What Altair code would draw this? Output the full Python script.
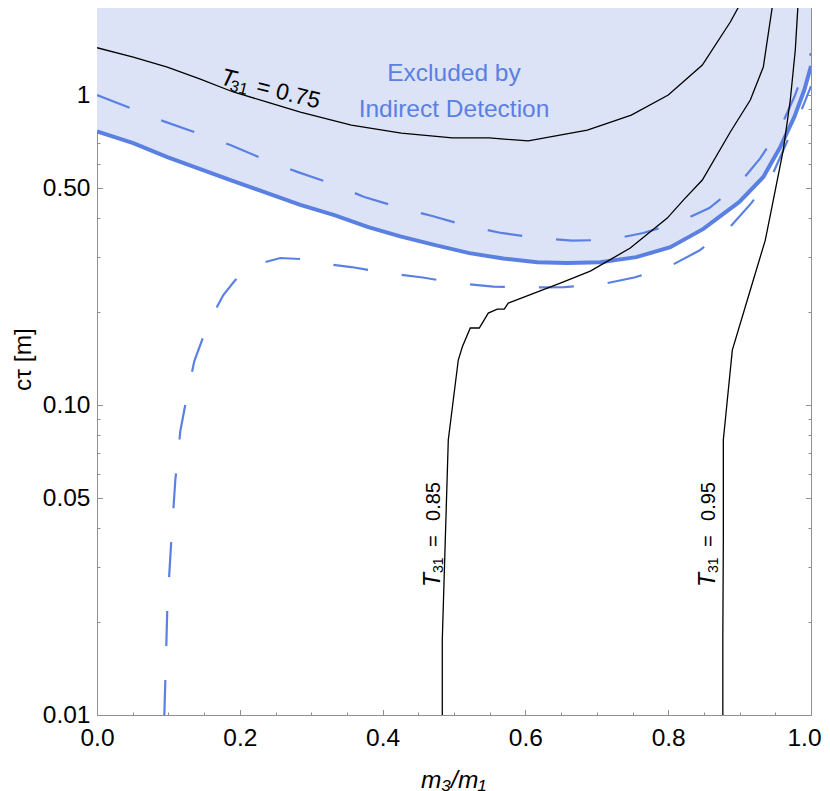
import altair as alt
import pandas as pd

# ---------------- data (x = m3/m1, y = c*tau in metres) ----------------
# thick solid blue boundary of the excluded region
solid_x = [0.0, 0.0508, 0.0985, 0.1447, 0.1909, 0.2385, 0.2848, 0.3324, 0.3800, 0.4248,
           0.4738, 0.5214, 0.5690, 0.6166, 0.6587, 0.7049, 0.7553, 0.8030, 0.8492, 0.8730,
           0.8996, 0.9332, 0.9570, 0.9766, 0.9906, 1.0]
solid_y = [0.763, 0.700, 0.631, 0.577, 0.528, 0.483, 0.442, 0.410, 0.375, 0.350,
           0.328, 0.309, 0.297, 0.289, 0.287, 0.289, 0.300, 0.323, 0.370, 0.407,
           0.452, 0.544, 0.680, 0.849, 1.038, 1.240]

# upper dashed blue curve
upper_x = [0.0, 0.0466, 0.0929, 0.1405, 0.1867, 0.2329, 0.2805, 0.3268, 0.3744, 0.4218,
           0.4696, 0.5186, 0.5662, 0.6166, 0.6657, 0.7175, 0.7651, 0.8127, 0.8576, 0.8982,
           0.9290, 0.9570, 0.9766, 0.9948, 1.0]
upper_y = [1.000, 0.908, 0.824, 0.754, 0.690, 0.622, 0.565, 0.520, 0.469, 0.435,
           0.407, 0.378, 0.359, 0.346, 0.339, 0.341, 0.359, 0.387, 0.432, 0.513,
           0.626, 0.783, 0.985, 1.278, 1.366]

# lower dashed blue curve
lower_x = [0.0943, 0.0971, 0.0985, 0.1041, 0.1097, 0.1167, 0.1265, 0.1363, 0.1545, 0.1657,
           0.1769, 0.1937, 0.2119, 0.2357, 0.2567, 0.2848, 0.3086, 0.3562, 0.4052, 0.4562,
           0.5046, 0.5550, 0.6041, 0.6545, 0.7049, 0.7525, 0.8001, 0.8436, 0.8842, 0.9164,
           0.9458, 0.9668, 0.9878, 1.0]
lower_y = [0.0100, 0.0168, 0.0223, 0.0367, 0.0573, 0.0824, 0.1085, 0.1386, 0.1799, 0.2025,
           0.2263, 0.2530, 0.2747, 0.2892, 0.2980, 0.2958, 0.2870, 0.2787, 0.2666, 0.2578,
           0.2474, 0.2411, 0.2393, 0.2402, 0.2447, 0.2578, 0.2787, 0.3150, 0.3696, 0.4480,
           0.5520, 0.7110, 0.9080, 1.0690]

# black contours T31 = 0.75, 0.85, 0.95
t75_x = [0.0, 0.0508, 0.0985, 0.1447, 0.1909, 0.2385, 0.2848, 0.3562, 0.4262, 0.4976,
         0.5494, 0.6040, 0.6867, 0.7483, 0.8001, 0.8478, 0.8870, 0.9038]
t75_y = [1.421, 1.326, 1.231, 1.126, 1.023, 0.949, 0.881, 0.800, 0.754, 0.727,
         0.727, 0.711, 0.771, 0.862, 1.000, 1.250, 1.720, 2.025]

t85_x = [0.4836, 0.4836, 0.4878, 0.4920, 0.4990, 0.5060, 0.5116, 0.5228, 0.5354, 0.5480,
         0.5606, 0.5704, 0.5760, 0.6489, 0.6909, 0.7469, 0.7987, 0.8212, 0.8478, 0.8870,
         0.9150, 0.9332, 0.9472]
t85_y = [0.0100, 0.0175, 0.0367, 0.0771, 0.1038, 0.1397, 0.1538, 0.1772, 0.1772, 0.1980,
         0.2040, 0.2040, 0.2133, 0.2474, 0.2705, 0.3209, 0.4010, 0.4580, 0.5320, 0.7600,
         0.9636, 1.2310, 2.0250]

t95_x = [0.8765, 0.8765, 0.8772, 0.8772, 0.8828, 0.8898, 0.9150, 0.9360, 0.9472, 0.9612,
         0.9710, 0.9780, 0.9822]
t95_y = [0.0100, 0.0175, 0.0367, 0.0771, 0.1038, 0.1504, 0.2350, 0.3405, 0.4580, 0.6650,
         0.9636, 1.3970, 2.0250]

# ticks / labels
x_label_values = [0.0, 0.2, 0.4, 0.6, 0.8, 1.0]
x_tick_values = [0.0, 0.05, 0.1, 0.15, 0.2, 0.25, 0.3, 0.35, 0.4, 0.45, 0.5,
                 0.55, 0.6, 0.65, 0.7, 0.75, 0.8, 0.85, 0.9, 0.95, 1.0]
y_label_values = [0.01, 0.05, 0.1, 0.5, 1.0]
y_tick_values = [0.01, 0.02, 0.03, 0.04, 0.05, 0.06, 0.07, 0.08, 0.09,
                 0.1, 0.2, 0.3, 0.4, 0.5, 0.6, 0.7, 0.8, 0.9, 1.0]

# contour labels: anchor (x, y) and number text
label_x = [0.1713, 0.4808, 0.8660]
label_y = [1.085, 0.02588, 0.02588]
label_num = ["0.75", "0.85", "0.95"]

region_text = ["Excluded by", "Indirect Detection"]
region_x = [0.5, 0.5]
region_y = [1.106, 0.851]

# ---------------- styling ----------------
FONT = "Liberation Sans"
BLUE = "#5A80E2"
FILL = "#DCE3F7"
GREY = "#909090"
W, H = 714, 707

xs = alt.Scale(domain=[0, 1], nice=False, zero=False)
ys = alt.Scale(type="log", domain=[0.01, 1.909], nice=False)


def df(xv, yv):
    return pd.DataFrame({"x": xv, "y": yv, "i": list(range(len(xv)))})


x_major_test = "abs(datum.value * 5 - round(datum.value * 5)) < 0.001"
y_major_test = "indexof([0.01, 0.05, 0.1, 0.5, 1], datum.value) >= 0"


def tick_axis(orient, offset, values, test):
    return alt.Axis(orient=orient, offset=offset, values=values, labels=False,
                    domain=False, grid=False, ticks=True, tickColor=GREY, tickWidth=1,
                    tickSize={"condition": {"test": test, "value": 5.5}, "value": 3},
                    title=None)


x_label_axis = alt.Axis(orient="bottom", values=x_label_values, format=".1f",
                        ticks=False, tickSize=0, domain=False, grid=False,
                        labelFont=FONT, labelFontSize=24.5, labelColor="black",
                        labelPadding=11, labelFlush=False, labelOverlap=False,
                        labelOffset={"condition": {"test": "datum.value == 1", "value": -7},
                                     "value": 0},
                        title="m\u2083/m\u2081", titleFont=FONT, titleFontSize=24.5,
                        titleFontStyle="italic", titleFontWeight="normal",
                        titleColor="black", titleX=356, titleY=72,
                        titleAlign="center", titleBaseline="alphabetic")

y_label_axis = alt.Axis(orient="left", values=y_label_values,
                        labelExpr="datum.value == 1 ? '1' : format(datum.value, '.2f')",
                        ticks=False, tickSize=0, domain=False, grid=False,
                        labelFont=FONT, labelFontSize=24.5, labelColor="black",
                        labelPadding=7, labelFlush=False, labelOverlap=False,
                        title="c\u03c4 [m]", titleFont=FONT, titleFontSize=24.5,
                        titleFontWeight="normal", titleColor="black",
                        titleAngle=270, titleX=-67, titleY=351,
                        titleAlign="center", titleBaseline="alphabetic")

layers = []

# excluded region fill
layers.append(
    alt.Chart(df(solid_x, solid_y)).mark_area(color=FILL, clip=True).encode(
        x=alt.X("x:Q", scale=xs, axis=x_label_axis),
        y=alt.Y("y:Q", scale=ys, axis=y_label_axis),
        y2=alt.datum(3.0),
    )
)

# thick solid boundary (carries inward ticks on bottom and left edges)
layers.append(
    alt.Chart(df(solid_x, solid_y)).mark_line(color=BLUE, strokeWidth=4, clip=True).encode(
        x=alt.X("x:Q", scale=xs, axis=tick_axis("top", -H, x_tick_values, x_major_test)),
        y=alt.Y("y:Q", scale=ys, axis=tick_axis("right", -W, y_tick_values, y_major_test)),
        order=alt.Order("i:Q"),
    )
)

# upper dashed (carries inward ticks on top and right edges)
layers.append(
    alt.Chart(df(upper_x, upper_y)).mark_line(color=BLUE, strokeWidth=2.2,
                                               strokeDash=[35, 34], clip=True).encode(
        x=alt.X("x:Q", scale=xs, axis=tick_axis("bottom", -H, x_tick_values, x_major_test)),
        y=alt.Y("y:Q", scale=ys, axis=tick_axis("left", -W, y_tick_values, y_major_test)),
        order=alt.Order("i:Q"),
    )
)

# lower dashed
layers.append(
    alt.Chart(df(lower_x, lower_y)).mark_line(color=BLUE, strokeWidth=2.2,
                                               strokeDash=[35, 34], clip=True).encode(
        x=alt.X("x:Q", scale=xs, axis=None),
        y=alt.Y("y:Q", scale=ys, axis=None),
        order=alt.Order("i:Q"),
    )
)

# black contours
for cx, cy in [(t75_x, t75_y), (t85_x, t85_y), (t95_x, t95_y)]:
    layers.append(
        alt.Chart(df(cx, cy)).mark_line(color="black", strokeWidth=1.3, clip=True).encode(
            x=alt.X("x:Q", scale=xs, axis=None),
            y=alt.Y("y:Q", scale=ys, axis=None),
            order=alt.Order("i:Q"),
        )
    )

# contour labels  T_31 = value
for k in range(3):
    if k == 0:
        angle = 14
        parts = [("T", 24, "italic", 0, 0), ("31", 16, "normal", 11, 4),
                 ("=", 23, "normal", 37, 0), (label_num[k], 23, "normal", 57, 0)]
    else:
        angle = 270
        parts = [("T", 23, "italic", 0, 0), ("31", 14, "normal", 14, 3),
                 ("=", 20, "normal", 40, 0), (label_num[k], 20, "normal", 66, 0)]
    for txt, size, style, ddx, ddy in parts:
        d = pd.DataFrame({"x": [label_x[k]], "y": [label_y[k]], "t": [txt]})
        layers.append(
            alt.Chart(d).mark_text(font=FONT, fontSize=size, fontStyle=style,
                                   color="black", align="left", baseline="alphabetic",
                                   angle=angle, dx=ddx, dy=ddy).encode(
                x=alt.X("x:Q", scale=xs, axis=None),
                y=alt.Y("y:Q", scale=ys, axis=None),
                text="t:N",
            )
        )

# region text
layers.append(
    alt.Chart(pd.DataFrame({"x": region_x, "y": region_y, "t": region_text}))
    .mark_text(font=FONT, fontSize=24.5, color=BLUE, align="center", baseline="alphabetic")
    .encode(
        x=alt.X("x:Q", scale=xs, axis=None),
        y=alt.Y("y:Q", scale=ys, axis=None),
        text="t:N",
    )
)

chart = (
    alt.layer(*layers)
    .resolve_axis(x="independent", y="independent")
    .properties(width=W, height=H,
                autosize=alt.AutoSizeParams(type="none"),
                padding={"left": 89, "top": 0, "right": 11, "bottom": 76},
                background="white")
    .configure(font=FONT)
    .configure_view(stroke=GREY, strokeWidth=1)
)

chart.save("out.html", embed_options={"renderer": "svg", "actions": False})
